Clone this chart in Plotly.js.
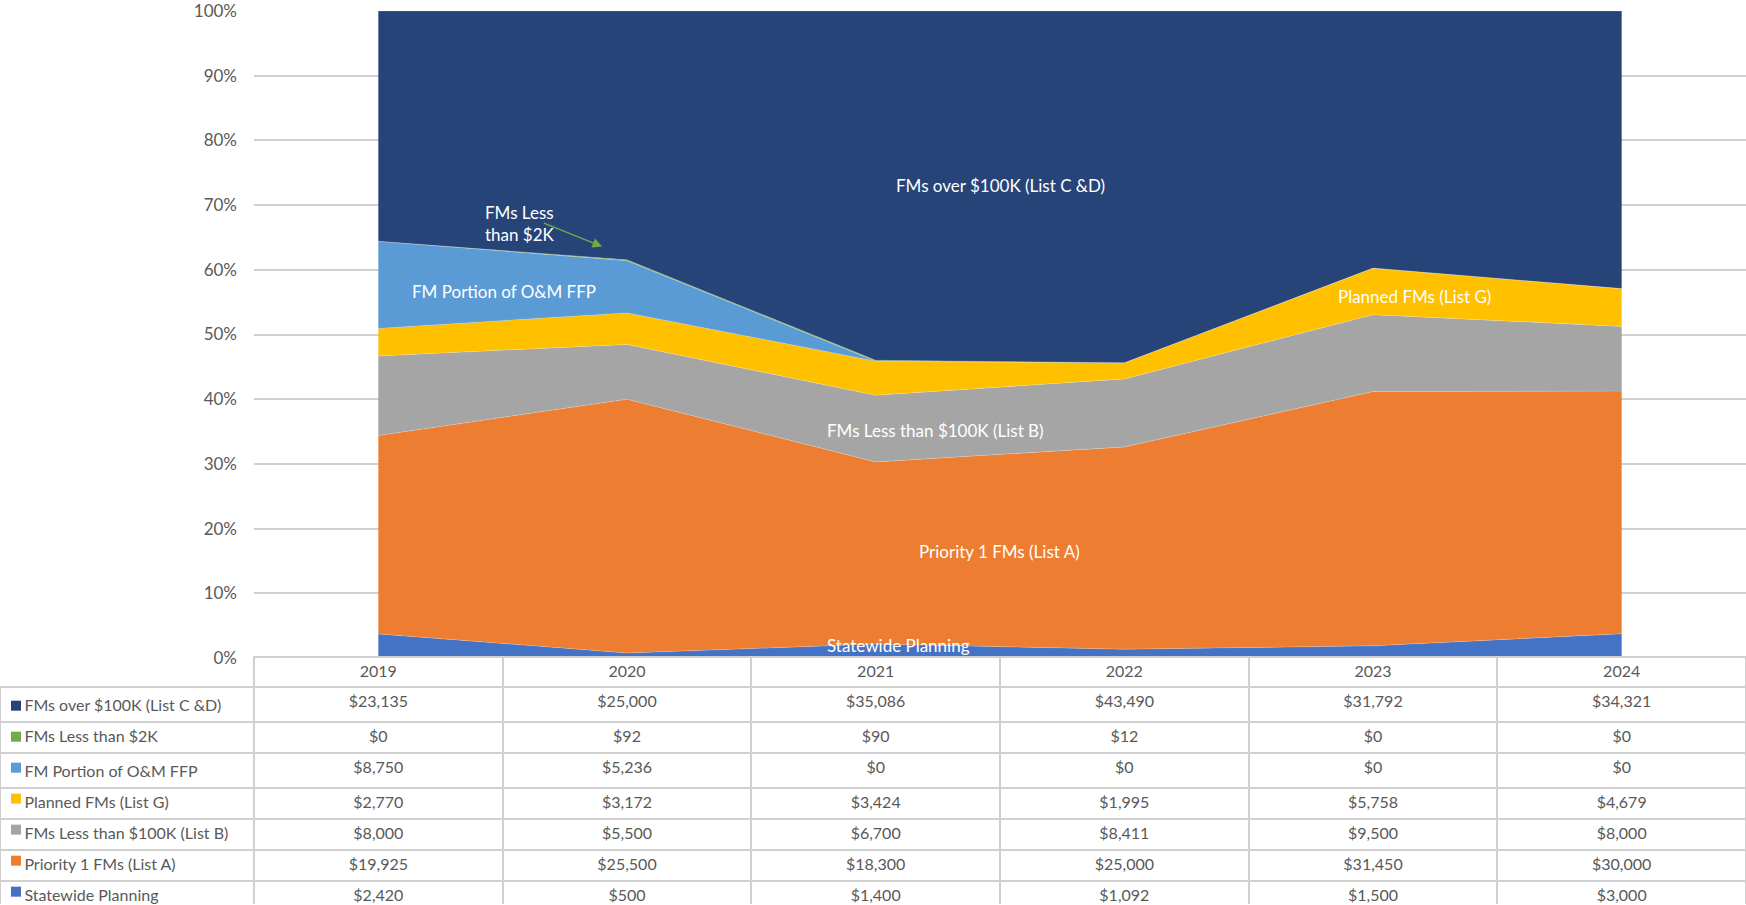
<!DOCTYPE html>
<html>
<head>
<meta charset="utf-8">
<script src="https://cdn.plot.ly/plotly-3.0.1.min.js"></script>
<style>
html,body{margin:0;padding:0;background:#fff;}
#chart{width:1746px;height:905px;}
</style>
</head>
<body>
<div id="chart"></div>
<script>
// ---------- data ----------
const years = ['2019', '2020', '2021', '2022', '2023', '2024'];

const seriesNames = [
  'FMs over $100K (List C &D)',
  'FMs Less than $2K',
  'FM Portion of O&M FFP',
  'Planned FMs (List G)',
  'FMs Less than $100K (List B)',
  'Priority 1 FMs (List A)',
  'Statewide Planning'
];

const fmsOver100K      = [23135, 25000, 35086, 43490, 31792, 34321];
const fmsLessThan2K    = [0, 92, 90, 12, 0, 0];
const fmPortionOM      = [8750, 5236, 0, 0, 0, 0];
const plannedFMs       = [2770, 3172, 3424, 1995, 5758, 4679];
const fmsLessThan100K  = [8000, 5500, 6700, 8411, 9500, 8000];
const priority1FMs     = [19925, 25500, 18300, 25000, 31450, 30000];
const statewidePlanning= [2420, 500, 1400, 1092, 1500, 3000];

const seriesColors = ['#264478', '#70AD47', '#5B9BD5', '#FFC000', '#A5A5A5', '#ED7D31', '#4472C4'];

const yTickVals = [0, 10, 20, 30, 40, 50, 60, 70, 80, 90, 100];

// ---------- layout geometry ----------
const W = 1746, H = 905;
const plotLeft = 254, plotTop = 11, plotBottom = 658;
const headerH = 30, rowH = 31;
const FONT = 'Lato, "Open Sans", sans-serif';
const FS = 17;
const TFS = 16;

const seriesData = [fmsOver100K, fmsLessThan2K, fmPortionOM, plannedFMs, fmsLessThan100K, priority1FMs, statewidePlanning];

// area traces: bottom of stack first
const traces = [];
for (let i = seriesData.length - 1; i >= 0; i--) {
  traces.push({
    type: 'scatter',
    mode: 'lines',
    x: years,
    y: seriesData[i],
    name: seriesNames[i],
    stackgroup: 'one',
    groupnorm: 'percent',
    line: {width: 0.6, color: 'rgba(255,255,255,0.35)'},
    fillcolor: seriesColors[i],
    hoverinfo: 'skip',
    showlegend: false,
    xaxis: 'x', yaxis: 'y'
  });
}

// legend keys of the data table (on a hidden axis pair over the label column)
traces.push({
  type: 'scatter',
  mode: 'markers',
  x: seriesNames.map(() => 16),
  y: seriesNames.map((n, i) => i + 0.57),
  marker: {symbol: 'square', size: 10, color: seriesColors},
  hoverinfo: 'skip',
  showlegend: false,
  cliponaxis: false,
  xaxis: 'x2', yaxis: 'y2'
});

// data table
const fmt = v => '$' + v.toLocaleString('en-US');
const labelCol = seriesNames.map(n => '\u00a0\u00a0\u00a0\u00a0' + n.replace(/ /g, '\u00a0'));
const tableCols = [labelCol];
years.forEach((y, j) => tableCols.push(seriesData.map(s => fmt(s[j]))));

const colW = [plotLeft].concat(years.map(() => (W - plotLeft) / years.length));
const tableTopFrac = (H - plotBottom + 1) / H;

traces.push({
  type: 'table',
  domain: {x: [0, 1], y: [0, tableTopFrac]},
  columnwidth: colW,
  header: {
    values: [''].concat(years),
    height: headerH,
    align: 'center',
    fill: {color: ['rgba(0,0,0,0)'].concat(years.map(() => '#ffffff'))},
    line: {color: ['rgba(0,0,0,0)'].concat(years.map(() => '#d0d0d0')), width: 2},
    font: {family: FONT, size: TFS, color: '#595959'}
  },
  cells: {
    values: tableCols,
    height: rowH,
    align: ['left'].concat(years.map(() => 'center')),
    fill: {color: ['rgba(0,0,0,0)'].concat(years.map(() => '#ffffff'))},
    line: {color: '#d0d0d0', width: 2},
    font: {family: FONT, size: TFS, color: '#595959'}
  }
});

// in-chart labels
const labelFont = {family: FONT, size: FS, color: '#ffffff'};
const annotations = [
  {x: 2.5,  y: 73.0, text: 'FMs over $100K (List C &D)'},
  {x: 0.57, y: 67.2, text: 'FMs Less<br>than $2K', align: 'left'},
  {x: 0.505,y: 56.6, text: 'FM Portion of O&M FFP'},
  {x: 4.165,y: 55.9, text: 'Planned FMs (List G)'},
  {x: 2.24, y: 35.2, text: 'FMs Less than $100K (List B)'},
  {x: 2.496,y: 16.5, text: 'Priority 1 FMs (List A)'},
  {x: 2.09, y: 1.9,  text: 'Statewide Planning'}
].map(a => Object.assign({xref: 'x', yref: 'y', showarrow: false, font: labelFont}, a));

// arrow for "FMs Less than $2K"
annotations.push({
  xref: 'x', yref: 'y', axref: 'x', ayref: 'y',
  x: 0.90, y: 63.6, ax: 0.66, ay: 67.3,
  text: '', showarrow: true, arrowhead: 2, arrowsize: 1.6, arrowwidth: 1.2,
  arrowcolor: '#70AD47'
});

const layout = {
  width: W, height: H,
  margin: {l: 0, r: 0, t: 0, b: 0},
  paper_bgcolor: '#ffffff',
  plot_bgcolor: 'rgba(0,0,0,0)',
  showlegend: false,
  xaxis: {
    domain: [plotLeft / W, 1],
    type: 'category',
    range: [-0.5, years.length - 0.5],
    showticklabels: false,
    showgrid: false,
    zeroline: false,
    fixedrange: true
  },
  yaxis: {
    domain: [(H - plotBottom) / H, (H - plotTop) / H],
    range: [0, 100],
    tickvals: yTickVals,
    ticktext: yTickVals.map(v => v + '%'),
    showgrid: true,
    gridcolor: '#d0d0d0',
    gridwidth: 2,
    zeroline: false,
    ticks: '',
    ticklabelstandoff: 16,
    ticklabeloverflow: 'allow',
    tickfont: {family: FONT, size: FS, color: '#595959'},
    fixedrange: true
  },
  xaxis2: {
    domain: [0, plotLeft / W],
    range: [0, plotLeft],
    visible: false,
    fixedrange: true
  },
  yaxis2: {
    domain: [0, (H - plotBottom - headerH) / H],
    range: [seriesNames.length, 0],
    visible: false,
    fixedrange: true
  },
  annotations: annotations
};

Plotly.newPlot('chart', traces, layout, {displayModeBar: false, staticPlot: true});
</script>
</body>
</html>
